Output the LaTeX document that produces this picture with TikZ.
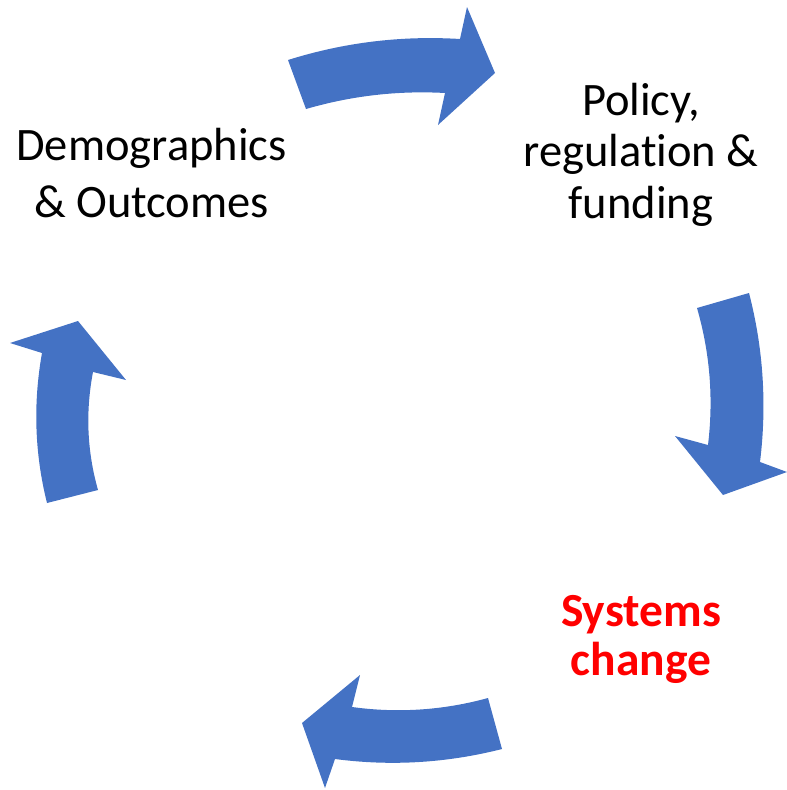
\documentclass[tikz,border=0pt]{standalone}
\usepackage{fontspec}
\setmainfont{Carlito}[Ligatures={NoCommon}]
\definecolor{arrowblue}{HTML}{4472C4}
\definecolor{accentred}{HTML}{FF0000}
\tikzset{
  blockarrow/.style={fill=arrowblue, draw=none},
  label/.style={inner sep=0pt, anchor=base, align=center, font=\fontsize{46.5}{56}\selectfont},
}
\begin{document}
\begin{tikzpicture}[x=1pt,y=-1pt]
\useasboundingbox (0,0) rectangle (787,790);
% top arrow (to the right)
\path[blockarrow] (288,60) .. controls (344.0,42.4) and (401.4,35.4) .. (460,39)
  -- (467,7) -- (495,73) -- (438,125) -- (445,93)
  .. controls (397.8,90.4) and (351.4,95.8) .. (306,109) -- cycle;
% right arrow (downwards)
\path[blockarrow] (749,293) .. controls (763.4,348.6) and (767,405) .. (760,462)
  -- (787,472) -- (723,495) -- (675,436) -- (708,445)
  .. controls (713.6,398.6) and (710,353) .. (697,308) -- cycle;
% bottom arrow (to the left)
\path[blockarrow] (502,749) .. controls (446.9,763) and (391.3,766.4) .. (335,759)
  -- (325,788) -- (302,723) -- (360,675) -- (352,707)
  .. controls (397.9,713.3) and (443.3,710.3) .. (488,698) -- cycle;
% left arrow (upwards)
\path[blockarrow] (47,503) .. controls (34.6,453.4) and (33,403.4) .. (42,353)
  -- (10,343) -- (78,321) -- (126,380) -- (93,372)
  .. controls (85.4,411.7) and (87,451.1) .. (98,490) -- cycle;
% labels (base anchor = baseline of last line)
\node[label] (demo) at (151.5,217) {Demographics\\[1pt]\& Outcomes};
\node[label, font=\fontsize{46.5}{51.5}\selectfont] (policy) at (641,218) {Policy,\\regulation \&\\funding};
\node[label, text=accentred, font=\fontsize{47.5}{49}\selectfont\bfseries] (systems) at (641,675) {Systems\\change};
\end{tikzpicture}
\end{document}
